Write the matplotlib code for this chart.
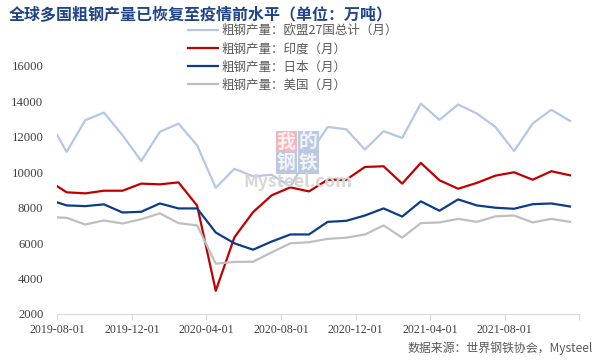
import matplotlib
matplotlib.use("Agg")
import matplotlib.pyplot as plt
import numpy as np

plt.rcParams['font.family'] = ['Noto Sans CJK SC', 'DejaVu Sans']

# Monthly data, 2019-07 .. 2021-11 (first point lies left of the axis start and is clipped)
months = ["2019-07", "2019-08", "2019-09", "2019-10", "2019-11", "2019-12",
          "2020-01", "2020-02", "2020-03", "2020-04", "2020-05", "2020-06",
          "2020-07", "2020-08", "2020-09", "2020-10", "2020-11", "2020-12",
          "2021-01", "2021-02", "2021-03", "2021-04", "2021-05", "2021-06",
          "2021-07", "2021-08", "2021-09", "2021-10", "2021-11"]
eu27 = [13040, 11150, 12940, 13370, 12090, 10640, 12280, 12750, 11520, 9120,
        10200, 9770, 9860, 9200, 10980, 12560, 12430, 11280, 12320, 11940,
        13880, 12960, 13830, 13320, 12560, 11200, 12750, 13530, 12900]
india = [9550, 8870, 8810, 8960, 8960, 9360, 9320, 9430, 8120, 3310,
         6330, 7750, 8700, 9150, 8920, 9580, 9580, 10300, 10340, 9360,
         10530, 9550, 9070, 9400, 9810, 10000, 9580, 10060, 9830]
japan = [8470, 8130, 8090, 8190, 7730, 7770, 8240, 7960, 7960, 6600,
         5990, 5630, 6090, 6490, 6490, 7200, 7260, 7560, 7960, 7500,
         8360, 7830, 8470, 8130, 8000, 7940, 8200, 8240, 8070]
usa = [7470, 7430, 7050, 7280, 7110, 7350, 7680, 7130, 7000, 4840,
       4940, 4950, 5480, 5990, 6050, 6240, 6310, 6490, 7000, 6310,
       7130, 7170, 7370, 7200, 7510, 7560, 7170, 7370, 7200]

series_names = ["粗钢产量：欧盟27国总计（月）", "粗钢产量：印度（月）",
                "粗钢产量：日本（月）", "粗钢产量：美国（月）"]
colors = ["#B4C7E7", "#C00000", "#0B3C8C", "#BFBFBF"]

tick_labels = ["2019-08-01", "2019-12-01", "2020-04-01", "2020-08-01",
               "2020-12-01", "2021-04-01", "2021-08-01", ""]
yticks = [2000, 4000, 6000, 8000, 10000, 12000, 14000, 16000]

title = "全球多国粗钢产量已恢复至疫情前水平（单位：万吨）"
source = "数据来源：世界钢铁协会，Mysteel"

fig = plt.figure(figsize=(6.07, 3.62), dpi=100)
ax = fig.add_axes([57.3 / 607, 1 - 314 / 362, (579.3 - 57.3) / 607, (314 - 66) / 362])

# watermark (behind the lines)
wm = [("我", 286, 142, "#F2B6BC"), ("的", 308, 142, "#BCC8E2"),
      ("钢", 286, 163, "#BCC8E2"), ("铁", 308, 163, "#BCC8E2")]
for ch, px, py, fc in wm:
    fig.text(px / 607, 1 - py / 362, ch, ha='center', va='center', fontsize=13.5,
             color='white', fontweight='bold', zorder=0, alpha=0.8,
             bbox=dict(boxstyle='square,pad=0.06', fc=fc, ec='none'))
fig.text(298 / 607, 1 - 182 / 362, "Mysteel.com", ha='center', va='center', fontsize=12.5,
         color='#D6D6D6', fontweight='bold', zorder=0)
ax.patch.set_alpha(0)

x = np.arange(len(months)) - 1
for vals, name, c in zip([eu27, india, japan, usa], series_names, colors):
    ax.plot(x, vals, color=c, lw=1.6, label=name, solid_joinstyle='round')

ax.set_xlim(-0.5, len(months) - 1.5)
ax.set_ylim(2000, 16000)
ax.set_xticks(np.arange(len(tick_labels)) * 4 - 0.5)
ax.set_xticklabels(tick_labels, family='Liberation Serif', fontsize=8.6, color='#404040')
ax.set_yticks(yticks)
ax.set_yticklabels([str(v) for v in yticks], family='Liberation Serif', fontsize=9.2, color='#404040')
ax.tick_params(axis='y', length=0, pad=10)
ax.tick_params(axis='x', length=4, width=0.8, color='#D9D9D9', pad=3)
for s in ['top', 'right', 'left']:
    ax.spines[s].set_visible(False)
ax.spines['bottom'].set_color('#D9D9D9')
ax.spines['bottom'].set_linewidth(0.8)

leg = fig.legend(loc='upper left', bbox_to_anchor=(188 / 607, 1 - 24 / 362), frameon=False,
                 fontsize=9, handlelength=2.4, labelspacing=0.42, handletextpad=0.3,
                 borderaxespad=0, borderpad=0)
for t in leg.get_texts():
    t.set_color('#595959')

fig.text(9 / 607, 1 - 14 / 362, title, ha='left', va='center', fontsize=11.5,
         fontweight='bold', color='#1F4488')
fig.text(593 / 607, 1 - 348 / 362, source, ha='right', va='center', fontsize=8.6,
         color='#595959')

fig.savefig("out.png", dpi=100)
